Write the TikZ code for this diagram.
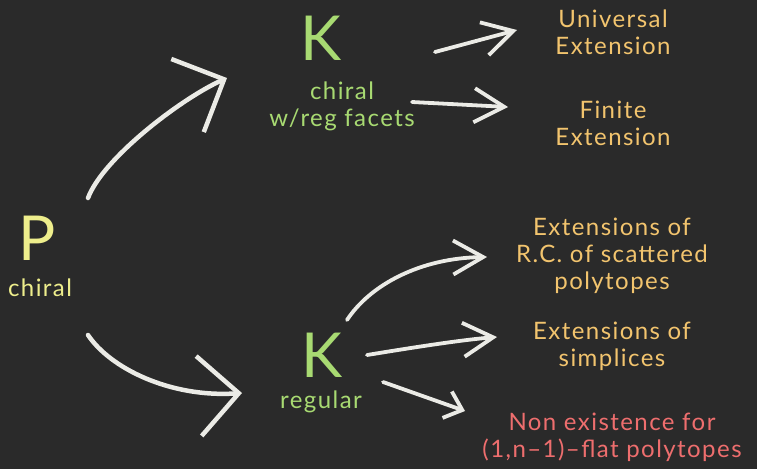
\documentclass[tikz,border=0pt]{standalone}
\usepackage{fontspec}
\setmainfont{Lato}[LetterSpace=6]
\usetikzlibrary{positioning}
\usetikzlibrary{arrows.meta}
\definecolor{board}{HTML}{2A2A2A}
\definecolor{chalk}{HTML}{EBEBE6}
\definecolor{chalkyellow}{HTML}{EEEE8C}
\definecolor{chalkgreen}{HTML}{A8DA72}
\definecolor{chalkorange}{HTML}{F2C46E}
\definecolor{chalkred}{HTML}{EE6E6E}
\tikzset{
	x=1pt, y=-1pt,
	every node/.style={inner sep=1pt, align=center},
	big/.style={font=\fontsize{62}{62}\selectfont},
	chalktext/.style={font=\fontsize{24}{27}\selectfont},
	topic/.style={chalktext, text=chalkorange},
	warn/.style={chalktext, text=chalkred},
	stroke/.style={draw=chalk, line width=4.5pt, line cap=round, line join=round},
	bighead/.style={-{Straight Barb[length=40pt,width=80pt]}},
	smallhead/.style={line width=3.8pt, -{Straight Barb[length=30pt,width=34pt]}},
	tinyhead/.style={line width=3.8pt, -{Straight Barb[length=16pt,width=28pt]}}
}

\begin{document}
\begin{tikzpicture}
	\fill[board] (0,0) rectangle (757,469);
	\useasboundingbox (0,0) rectangle (757,469);
	% left
	\node (P) [big, text=chalkyellow] at (37,238) {P};
	\node (Pt) [chalktext, text=chalkyellow] at (40,288) {chiral};
	% middle
	\node (K1) [big, text=chalkgreen] at (321,38) {K};
	\node (K1t) [chalktext, text=chalkgreen] at (342,106) {chiral\\w/reg facets};
	\node (K2) [big, text=chalkgreen] at (322,355) {K};
	\node (K2t) [chalktext, text=chalkgreen] at (321,402) {regular};
	% right
	\node (ue) [topic] at (613,32) {Universal\\Extension};
	\node (fe) [topic] at (613,123) {Finite\\Extension};
	\node (rc) [topic] at (612,256) {Extensions of\\R.C. of scattered\\polytopes};
	\node (sx) [topic] at (612,346) {Extensions of\\simplices};
	\node (ne) [warn] at (612,437) {Non existence for\\(1,n--1)--flat polytopes};

	\draw [stroke, bighead] ([shift={(51,-40)}]P.center) .. controls (103,158) and (182,98) .. ([shift={(-94,40)}]K1.center);
	\draw [stroke, bighead] ([shift={(51,97)}]P.center) .. controls (110,368) and (170,398) .. ([shift={(-80,38)}]K2.center);
	\draw [stroke, smallhead] ([shift={(114,14)}]K1.center) -- ([shift={(-96,-2)}]ue.center);
	\draw [stroke, smallhead] ([shift={(70,-4)}]K1t.center) -- ([shift={(-105,-16)}]fe.center);
	\draw [stroke, smallhead] ([shift={(25,-35)}]K2.center) .. controls (370,285) and (420,258) .. ([shift={(-125,1)}]rc.center);
	\draw [stroke, smallhead] ([shift={(45,0)}]K2.center) .. controls (410,348) and (460,340) .. ([shift={(-115,-9)}]sx.center);
	\draw [stroke, tinyhead] ([shift={(61,27)}]K2.center) -- ([shift={(-147,-26)}]ne.center);
\end{tikzpicture}
\end{document}
